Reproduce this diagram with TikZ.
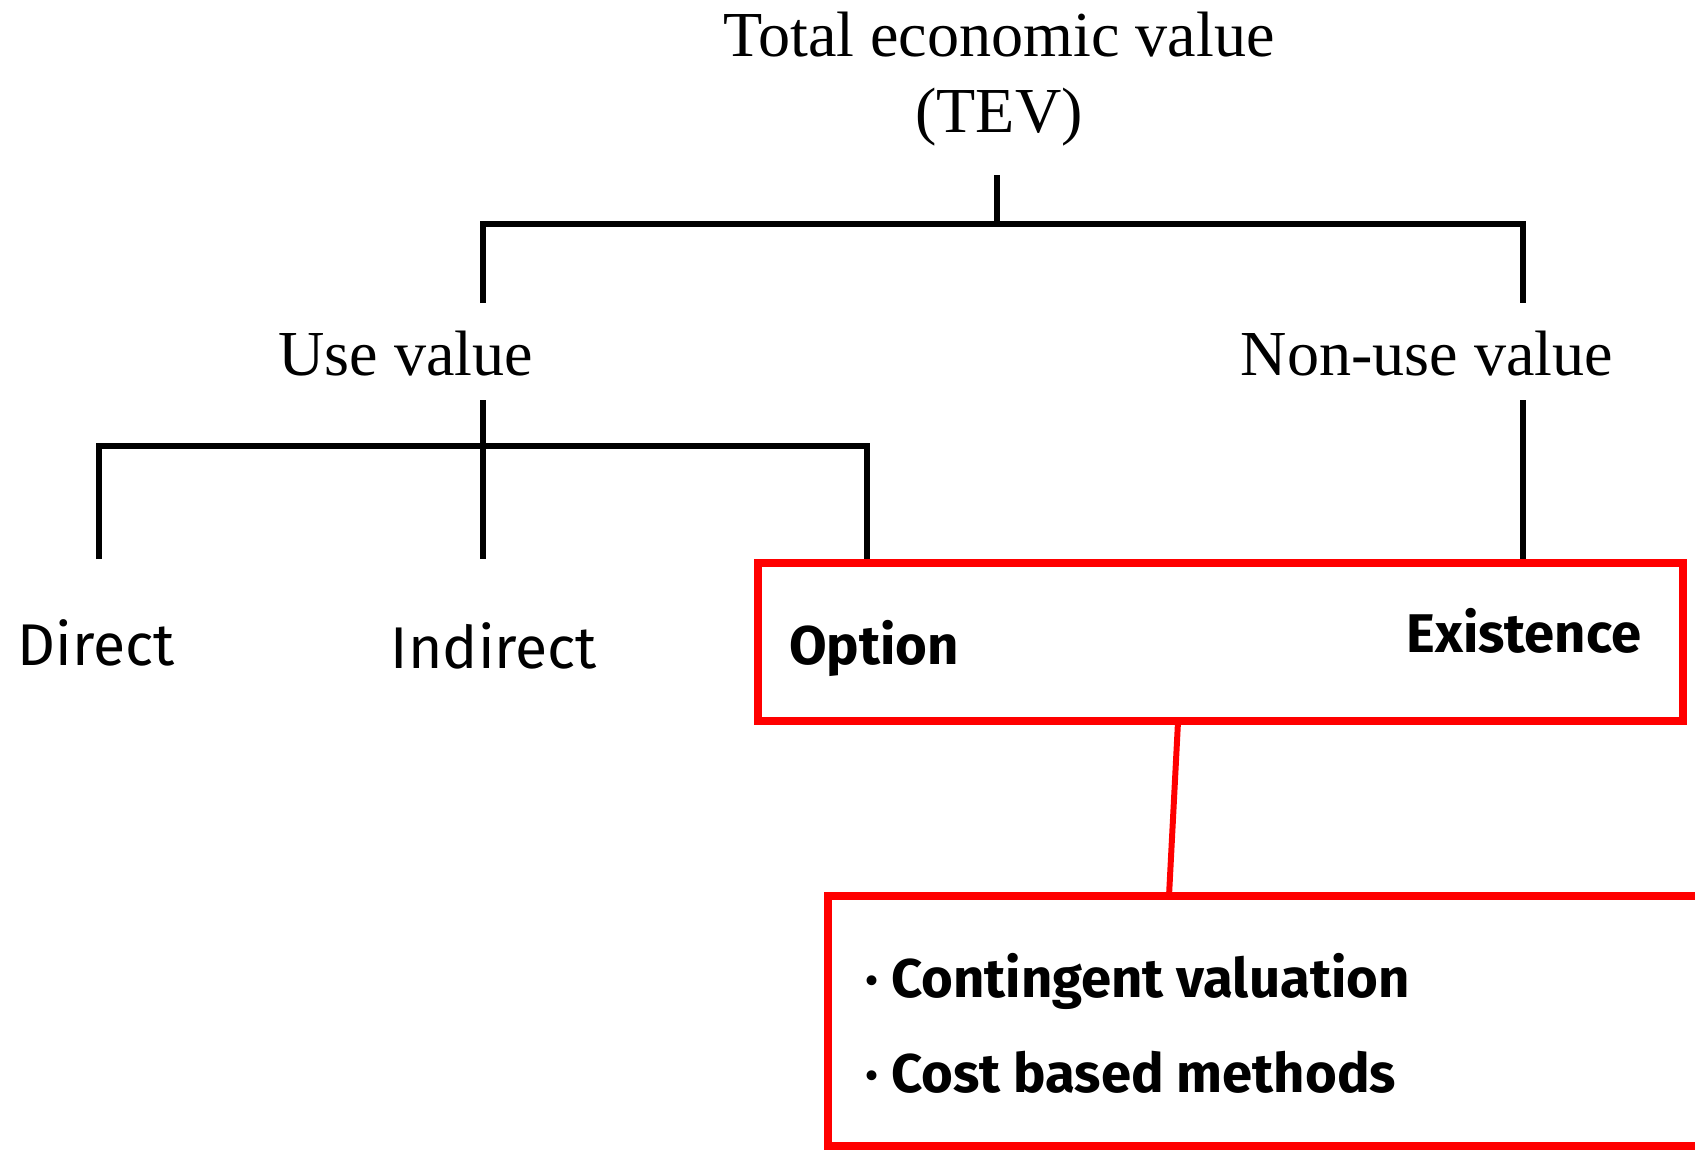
\documentclass[tikz,border=0pt]{standalone}
\usepackage{fontspec}
\setmainfont{Liberation Serif}
\newfontfamily\handfont{Fira Sans}
\usetikzlibrary{calc}

\tikzset{
	tree/.style={line width=3pt},
	redline/.style={draw=red, line width=3.4pt},
	redbox/.style={draw=red, line width=4.6pt, inner sep=0pt},
	serif/.style={font=\fontsize{36.5}{42.7}\selectfont, anchor=base, inner sep=0pt},
	hand/.style={font=\handfont\fontsize{33.5}{40}\selectfont, anchor=base, inner sep=0pt},
	handbold/.style={hand, font=\handfont\bfseries\fontsize{31}{40}\selectfont}
}

\begin{document}
\begin{tikzpicture}[x=0.02cm, y=-0.02cm]
		%%%%% START %%%%%
		\useasboundingbox (0, 0) rectangle (1695, 1150);
		\clip (0, 0) rectangle (1695, 1150);
		
		\node[serif, align=center] (tev) at (999, 132) {Total economic value\\(TEV)};
		\node[serif] (use) at (406, 375) {Use value};
		\node[serif] (nonuse) at (1427, 375) {Non-use value};
		
		\node[hand] (direct) at (96, 665) {Direct};
		\node[hand] (indirect) at (494, 668) {Indirect};
		\node[handbold] (option) at (874, 664) {Option};
		\node[handbold] (existence) at (1524, 652) {Existence};
		
		\node[redbox, minimum width=18.5cm, minimum height=3.16cm] (optbox) at (1220.5, 642) {};
		\node[redbox, minimum width=17.84cm, minimum height=5cm] (methodbox) at (1274, 1021) {};
		\node[handbold, anchor=base west] (contingent) at (865, 997) {\textperiodcentered\ Contingent valuation};
		\node[handbold, anchor=base west] (cost) at (865, 1092) {\textperiodcentered\ Cost based methods};
		
		% first level
		\coordinate (tevfoot) at (997, 175);
		\coordinate (usetop) at (483, 303);
		\coordinate (nonusetop) at (1523, 303);
		\draw[tree] (tevfoot) -- (tevfoot |- 0, 224);
		\draw[tree] (usetop) -- (usetop |- 0, 224) -- (nonusetop |- 0, 224) -- (nonusetop);
		
		% second level
		\coordinate (usefoot) at (483, 400);
		\coordinate (directtop) at (99, 559);
		\coordinate (indirecttop) at (483, 559);
		\coordinate (optiontop) at (867, 559);
		\draw[tree] (usefoot) -- (indirecttop);
		\draw[tree] (directtop) -- (directtop |- 0, 446) -- (optiontop |- 0, 446) -- (optiontop);
		\coordinate (nonusefoot) at (1523, 400);
		\draw[tree] (nonusefoot) -- (nonusefoot |- optbox.north);
		
		% link to methods
		\coordinate (linktop) at (1178, 722);
		\coordinate (linkfoot) at (1169, 896);
		\draw[redline] (linktop) -- (linkfoot);
		%%%%% END %%%%%
	\end{tikzpicture}
\end{document}
